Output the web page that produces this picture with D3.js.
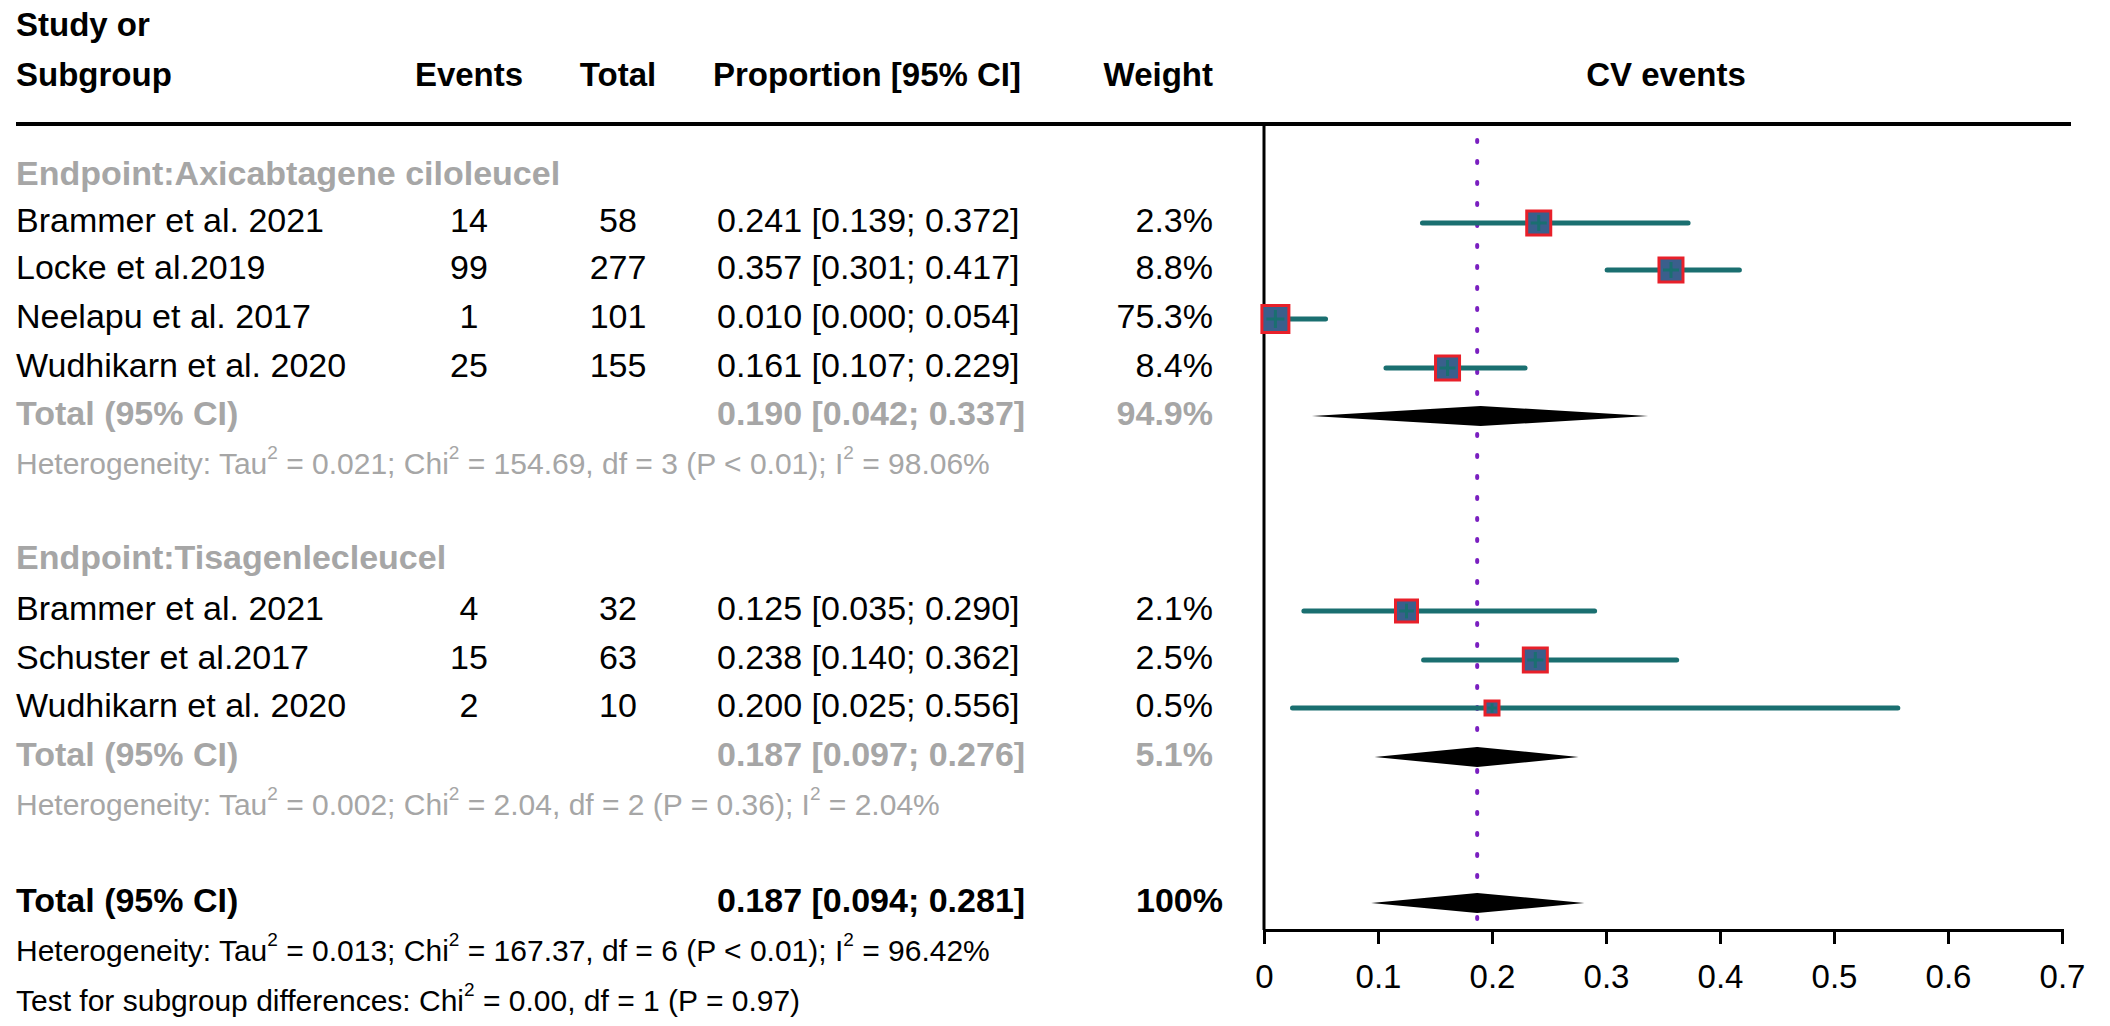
<!DOCTYPE html>
<html><head><meta charset="utf-8">
<script src="https://cdn.jsdelivr.net/npm/d3@7"></script>
<style>body{margin:0;background:#fff}text{font-family:Arial,"Liberation Sans",sans-serif}</style>
</head><body><svg id="c" width="2110" height="1026"></svg>
<script>
// study rows
var studies = ["Brammer et al. 2021","Locke et al.2019","Neelapu et al. 2017","Wudhikarn et al. 2020",
               "Brammer et al. 2021","Schuster et al.2017","Wudhikarn et al. 2020"];
var events = [14,99,1,25,4,15,2];
var totals = [58,277,101,155,32,63,10];
var est = [0.241,0.357,0.010,0.161,0.125,0.238,0.200];
var lower = [0.139,0.301,0.000,0.107,0.035,0.140,0.025];
var upper = [0.372,0.417,0.054,0.229,0.290,0.362,0.556];
var weights = ["2.3%","8.8%","75.3%","8.4%","2.1%","2.5%","0.5%"];
var boxSize = [24,24,27,24,22,24,14];
var rowY = [223,270,319,368,611,660,708];

var groupNames = ["Endpoint:Axicabtagene ciloleucel","Endpoint:Tisagenlecleucel"];
var groupY = [176,560];
var subEst = [0.190,0.187], subLo = [0.042,0.097], subHi = [0.337,0.276];
var subW = ["94.9%","5.1%"];
var subY = [416,757];
var subHet = [["0.021","154.69","3","P < 0.01","98.06%"],["0.002","2.04","2","P = 0.36","2.04%"]];
var hetY = [466,807];
var overall = {est:0.187, lo:0.094, hi:0.281, y:903};
var ticks = [0,0.1,0.2,0.3,0.4,0.5,0.6,0.7];

var svg = d3.select("#c");
var x = d3.scaleLinear().domain([0,0.7]).range([1264,2062]);
var fs = 34, hs = 30, grey = "#a6a6a6";
var f3 = d3.format(".3f");

function txt(t,xx,yy,anchor,opt){
  opt = opt||{};
  return svg.append("text").attr("x",xx).attr("y",yy).attr("text-anchor",anchor||"start")
    .attr("dominant-baseline","middle").attr("font-size",opt.size||fs)
    .attr("font-weight",opt.bold?"bold":"normal").attr("fill",opt.fill||"#000").text(t);
}
function ci(e,l,h){ return f3(e)+" ["+f3(l)+"; "+f3(h)+"]"; }

// header
txt("Study or",16,27,"start",{bold:true,size:33});
txt("Subgroup",16,77,"start",{bold:true,size:33});
txt("Events",469,77,"middle",{bold:true,size:33});
txt("Total",618,77,"middle",{bold:true,size:33});
txt("Proportion [95% CI]",713,77,"start",{bold:true,size:33});
txt("Weight",1213,77,"end",{bold:true,size:33});
txt("CV events",1666,77,"middle",{bold:true,size:33});
svg.append("line").attr("x1",16).attr("x2",2071).attr("y1",124).attr("y2",124).attr("stroke","#000").attr("stroke-width",4);

// axis
svg.append("line").attr("x1",x(0)).attr("x2",x(0)).attr("y1",124).attr("y2",930).attr("stroke","#000").attr("stroke-width",3);
svg.append("g").attr("transform","translate(0,930)")
  .call(d3.axisBottom(x).tickValues(ticks).tickSize(14).tickFormat(d3.format("")))
  .call(g=>{g.select(".domain").attr("stroke-width",3);
    g.selectAll("line").attr("stroke-width",3);
    g.selectAll("text").attr("font-size",33).attr("font-family","Arial,'Liberation Sans',sans-serif").attr("dy","1.25em");});

// reference dotted line
svg.append("line").attr("x1",x(overall.est)).attr("x2",x(overall.est)).attr("y1",140).attr("y2",926)
  .attr("stroke","#7a1fc0").attr("stroke-width",4).attr("stroke-dasharray","2,19").attr("stroke-linecap","round");

function hetSpans(t,h){
  t.append("tspan").text("Heterogeneity: Tau");
  t.append("tspan").attr("font-size",19).attr("dy",-12).text("2");
  t.append("tspan").attr("dy",12).text(" = "+h[0]+"; Chi");
  t.append("tspan").attr("font-size",19).attr("dy",-12).text("2");
  t.append("tspan").attr("dy",12).text(" = "+h[1]+", df = "+h[2]+" ("+h[3]+"); I");
  t.append("tspan").attr("font-size",19).attr("dy",-12).text("2");
  t.append("tspan").attr("dy",12).text(" = "+h[4]);
}
function diamond(e,l,h,yy){
  svg.append("path").attr("d","M"+x(l)+","+yy+"L"+x(e)+","+(yy-10)+"L"+x(h)+","+yy+"L"+x(e)+","+(yy+10)+"Z").attr("fill","#000");
}

// groups
groupNames.forEach(function(g,i){
  txt(g,16,groupY[i],"start",{bold:true,fill:grey});
  txt("Total (95% CI)",16,subY[i],"start",{bold:true,fill:grey});
  txt(ci(subEst[i],subLo[i],subHi[i]),717,subY[i],"start",{bold:true,fill:grey});
  txt(subW[i],1213,subY[i],"end",{bold:true,fill:grey});
  var t = svg.append("text").attr("x",16).attr("y",hetY[i]).attr("dominant-baseline","middle").attr("font-size",hs).attr("fill",grey);
  hetSpans(t,subHet[i]);
  diamond(subEst[i],subLo[i],subHi[i],subY[i]);
});

// studies
studies.forEach(function(s,i){
  var yy = rowY[i];
  txt(s,16,yy);
  txt(events[i],469,yy,"middle");
  txt(totals[i],618,yy,"middle");
  txt(ci(est[i],lower[i],upper[i]),717,yy);
  txt(weights[i],1213,yy,"end");
  svg.append("line").attr("x1",x(lower[i])).attr("x2",x(upper[i])).attr("y1",yy).attr("y2",yy)
    .attr("stroke","#1a6f70").attr("stroke-width",5).attr("stroke-linecap","round");
  var b = boxSize[i];
  svg.append("rect").attr("x",x(est[i])-b/2).attr("y",yy-b/2).attr("width",b).attr("height",b)
    .attr("fill","#3a5f8c").attr("stroke","#e8202a").attr("stroke-width",3);
  svg.append("line").attr("x1",x(est[i])-b/3).attr("x2",x(est[i])+b/3).attr("y1",yy).attr("y2",yy).attr("stroke","#1a6f70").attr("stroke-width",3);
  svg.append("line").attr("x1",x(est[i])).attr("x2",x(est[i])).attr("y1",yy-b/3).attr("y2",yy+b/3).attr("stroke","#1a6f70").attr("stroke-width",3);
});

// overall
txt("Total (95% CI)",16,overall.y,"start",{bold:true});
txt(ci(overall.est,overall.lo,overall.hi),717,overall.y,"start",{bold:true});
txt("100%",1223,overall.y,"end",{bold:true});
diamond(overall.est,overall.lo,overall.hi,overall.y);
var th = svg.append("text").attr("x",16).attr("y",953).attr("dominant-baseline","middle").attr("font-size",hs);
hetSpans(th,["0.013","167.37","6","P < 0.01","96.42%"]);
var tt = svg.append("text").attr("x",16).attr("y",1003).attr("dominant-baseline","middle").attr("font-size",hs);
tt.append("tspan").text("Test for subgroup differences: Chi");
tt.append("tspan").attr("font-size",19).attr("dy",-12).text("2");
tt.append("tspan").attr("dy",12).text(" = 0.00, df = 1 (P = 0.97)");
</script></body></html>
